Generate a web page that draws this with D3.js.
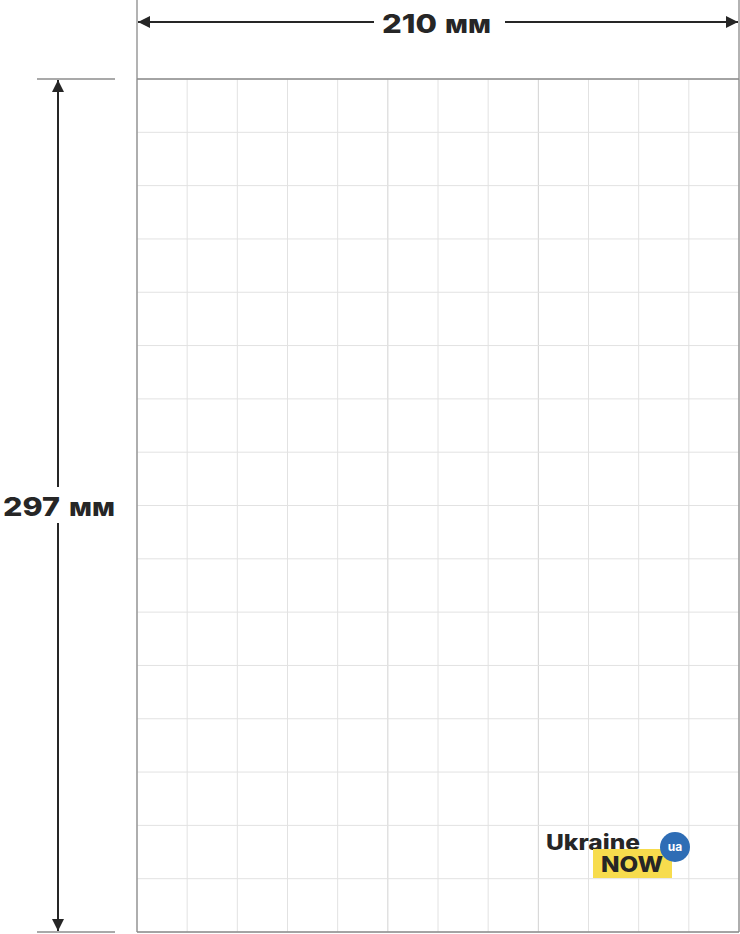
<!DOCTYPE html>
<html>
<head>
<meta charset="utf-8">
<script src="https://cdn.jsdelivr.net/npm/d3@7"></script>
<style>
  body { margin: 0; background: #fff; }
  svg { display: block; }
</style>
</head>
<body>
<div id="scene"></div>
<script>
var ctx = { w: 740, h: 934 };

// page data
var pageSize = [210, 297];            // mm: width, height
var gridCols = d3.range(0, 13);       // 12 columns
var gridRows = d3.range(0, 17);       // 16 rows
var darkCols = [5, 8];                // columns drawn slightly darker
var sizeLabels = ["210 мм", "297 мм"];
var logoWords = ["Ukraine", "NOW", "ua"];

var svg = d3.select("#scene").append("svg")
  .attr("width", ctx.w)
  .attr("height", ctx.h);

var x = d3.scaleLinear().domain([0, 12]).range([137, 739]);
var y = d3.scaleLinear().domain([0, 16]).range([79, 932]);

var defs = svg.append("defs");
defs.append("marker")
  .attr("id", "head")
  .attr("viewBox", "0 0 10 10")
  .attr("refX", 10).attr("refY", 5)
  .attr("markerWidth", 6).attr("markerHeight", 6)
  .attr("markerUnits", "strokeWidth")
  .attr("orient", "auto-start-reverse")
  .append("path")
  .attr("d", "M0,0 L10,5 L0,10 Z")
  .attr("fill", "#262626");

// grid
var grid = svg.append("g");
grid.selectAll(".v").data(gridCols).enter().append("line")
  .attr("x1", d => x(d)).attr("x2", d => x(d))
  .attr("y1", y(0)).attr("y2", y(16))
  .attr("stroke", d => darkCols.indexOf(d) >= 0 ? "#d2d2d2" : "#e2e2e2")
  .attr("stroke-width", 1);
grid.selectAll(".h").data(gridRows).enter().append("line")
  .attr("x1", x(0)).attr("x2", x(12))
  .attr("y1", d => y(d)).attr("y2", d => y(d))
  .attr("stroke", "#e2e2e2")
  .attr("stroke-width", 1);

// page frame
var frame = svg.append("g").attr("stroke", "#8a8a8a").attr("stroke-width", 1.3).attr("fill", "none");
frame.append("line").attr("x1", x(0)).attr("x2", x(0)).attr("y1", 0).attr("y2", y(16));
frame.append("line").attr("x1", x(12)).attr("x2", x(12)).attr("y1", 0).attr("y2", y(16));
frame.append("line").attr("x1", x(0)).attr("x2", x(12)).attr("y1", y(0)).attr("y2", y(0));
frame.append("line").attr("x1", x(0)).attr("x2", x(12)).attr("y1", y(16)).attr("y2", y(16));

// height ticks on the left
svg.append("g").attr("stroke", "#555").attr("stroke-width", 1.2)
  .selectAll("line").data([0, 16]).enter().append("line")
  .attr("x1", 37).attr("x2", 115)
  .attr("y1", d => y(d)).attr("y2", d => y(d));

var font = "Inter, 'DejaVu Sans', sans-serif";

// draws a "number unit" label as two stretched pieces
function sizeLabel(label, x0, base, w1, gap, w2) {
  var parts = label.split(" ");
  var t = svg.append("text")
    .attr("y", base)
    .attr("font-family", font).attr("font-weight", 800).attr("font-size", 26)
    .attr("fill", "#262626");
  t.append("tspan").attr("x", x0)
    .attr("textLength", w1).attr("lengthAdjust", "spacingAndGlyphs")
    .text(parts[0]);
  t.append("tspan").attr("x", x0 + w1 + gap)
    .attr("textLength", w2).attr("lengthAdjust", "spacingAndGlyphs")
    .text(parts[1]);
}

// width dimension
var wy = 22, wmid = (x(0) + x(12)) / 2;
svg.append("line")
  .attr("x1", wmid - 64).attr("x2", x(0) + 1)
  .attr("y1", wy).attr("y2", wy)
  .attr("stroke", "#262626").attr("stroke-width", 2)
  .attr("marker-end", "url(#head)");
svg.append("line")
  .attr("x1", wmid + 67).attr("x2", x(12) - 1)
  .attr("y1", wy).attr("y2", wy)
  .attr("stroke", "#262626").attr("stroke-width", 2)
  .attr("marker-end", "url(#head)");
sizeLabel(sizeLabels[0], 382, 32.5, 55, 8, 46);

// height dimension
var hx = 58, hmid = 505;
svg.append("line")
  .attr("x1", hx).attr("x2", hx)
  .attr("y1", hmid - 18).attr("y2", y(0) + 1)
  .attr("stroke", "#262626").attr("stroke-width", 2)
  .attr("marker-end", "url(#head)");
svg.append("line")
  .attr("x1", hx).attr("x2", hx)
  .attr("y1", hmid + 18).attr("y2", y(16) - 1)
  .attr("stroke", "#262626").attr("stroke-width", 2)
  .attr("marker-end", "url(#head)");
sizeLabel(sizeLabels[1], 3, 516, 57, 9, 46);

// logo
var logo = svg.append("g");
logo.append("text")
  .attr("x", 546).attr("y", 850)
  .attr("textLength", 94).attr("lengthAdjust", "spacingAndGlyphs")
  .attr("font-family", "Inter, sans-serif").attr("font-weight", 800).attr("font-size", 21)
  .attr("fill", "#262626")
  .text(logoWords[0]);
logo.append("rect")
  .attr("x", 593).attr("y", 849).attr("width", 79).attr("height", 29)
  .attr("fill", "#f7dc4d");
logo.append("text")
  .attr("x", 601).attr("y", 872)
  .attr("textLength", 62).attr("lengthAdjust", "spacingAndGlyphs")
  .attr("font-family", "Inter, sans-serif").attr("font-weight", 800).attr("font-size", 22)
  .attr("fill", "#262626")
  .text(logoWords[1]);
logo.append("circle")
  .attr("cx", 675).attr("cy", 847).attr("r", 15)
  .attr("fill", "#2e6db5");
logo.append("text")
  .attr("x", 675).attr("y", 851)
  .attr("text-anchor", "middle")
  .attr("font-family", "Inter, sans-serif").attr("font-weight", "bold").attr("font-size", 12)
  .attr("fill", "#fff")
  .text(logoWords[2]);
</script>
</body>
</html>
